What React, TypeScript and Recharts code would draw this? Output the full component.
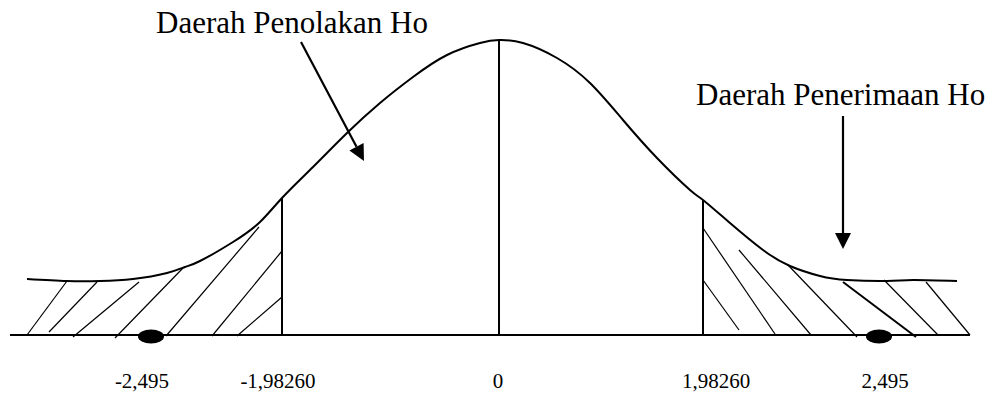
import { ComposedChart, Line, XAxis, YAxis, ReferenceLine, ReferenceDot } from 'recharts';

// positions are in drawing units along the baseline, heights are above the baseline
const curveX = [27, 67, 100, 133, 167, 185, 200, 233, 260, 282, 313, 347, 380, 413, 447, 480, 499, 523, 557, 590, 623, 657, 690, 703, 730, 763, 790, 820, 847, 887, 913, 957];
const curveH = [56, 54, 54, 56, 62, 68, 74, 93, 113, 137, 168, 202, 232, 258, 280, 292, 295, 292, 277, 252, 215, 177, 145, 135, 112, 85, 69, 59, 55, 54, 55, 54];

const tickPos = [142, 278, 498, 716, 885];
const tickLabels = ['-2,495', '-1,98260', '0', '1,98260', '2,495'];

// critical values (x, top of line)
const cutX = [282, 499, 703];
const cutTop = [137, 295, 135];

// t-hitung markers
const pointX = [151, 879];

// hatching strokes: [x1, y1, x2, y2, width]
const hatchLeft = [
  [27, 0, 67, 54, 1.2],
  [49, 3, 97, 53, 1.2],
  [73, -2, 139, 53, 1.2],
  [115, -3, 183, 67, 1.2],
  [166, -1, 259, 108, 1.2],
  [212, -1, 282, 84, 1.2],
  [237, -1, 282, 38, 1.2],
];
const hatchRight = [
  [703, 107, 775, 1, 1.2],
  [703, 55, 739, 5, 1.2],
  [739, 85, 811, 0, 1.2],
  [788, 70, 857, -2, 1.2],
  [843, 53, 916, -2, 2],
  [884, 55, 938, 0, 1.2],
  [926, 53, 970, 0, 1.2],
];

const notes = ['Daerah Penolakan Ho', 'Daerah Penerimaan Ho'];
const noteX = [156, 696];
const noteY = [302, 230];
const arrows = [
  [301, 293, 364, 174],
  [843, 219, 843, 86],
];

const data = curveX.map((x, i) => ({ x, h: curveH[i] }));
const FONT = '"Liberation Serif", "Times New Roman", serif';

const ArrowShape = (p: any) => {
  const { x1, y1, x2, y2 } = p;
  const a = Math.atan2(y2 - y1, x2 - x1);
  const len = 16;
  const w = 8;
  const bx = x2 - len * Math.cos(a);
  const by = y2 - len * Math.sin(a);
  const nx = -Math.sin(a) * w;
  const ny = Math.cos(a) * w;
  return (
    <g>
      <line x1={x1} y1={y1} x2={bx} y2={by} stroke="#000" strokeWidth={2.2} />
      <polygon points={`${x2},${y2} ${bx + nx},${by + ny} ${bx - nx},${by - ny}`} fill="#000" />
    </g>
  );
};

export default function App() {
  return (
    <div style={{ position: 'absolute', left: 0, top: 0, background: '#fff' }}>
      <ComposedChart width={1003} height={401} data={data} margin={{ top: 0, right: 33, bottom: 0, left: 10 }}>
        <XAxis
          dataKey="x"
          type="number"
          domain={[10, 970]}
          ticks={tickPos}
          tickFormatter={(v: number) => tickLabels[tickPos.indexOf(v)]}
          interval={0}
          height={66}
          tickLine={false}
          tickMargin={32}
          axisLine={{ stroke: '#000', strokeWidth: 2 }}
          tick={{ fill: '#000', fontSize: 21, fontFamily: FONT }}
        />
        <YAxis type="number" domain={[0, 335]} hide />
        {[...hatchLeft, ...hatchRight].map(([x1, y1, x2, y2, w], i) => (
          <ReferenceLine
            key={'h' + i}
            segment={[{ x: x1, y: y1 }, { x: x2, y: y2 }]}
            stroke="#000"
            strokeWidth={w}
            ifOverflow="visible"
          />
        ))}
        {cutX.map((x, i) => (
          <ReferenceLine
            key={'c' + i}
            segment={[{ x, y: 0 }, { x, y: cutTop[i] }]}
            stroke="#000"
            strokeWidth={2}
            ifOverflow="visible"
          />
        ))}
        <Line
          dataKey="h"
          type="natural"
          stroke="#000"
          strokeWidth={2}
          dot={false}
          activeDot={false}
          isAnimationActive={false}
        />
        {pointX.map((x, i) => (
          <ReferenceDot
            key={'p' + i}
            x={x}
            y={-1.5}
            r={7}
            ifOverflow="visible"
            shape={(p: any) => <ellipse cx={p.cx} cy={p.cy} rx={13} ry={7} fill="#000" />}
          />
        ))}
        {arrows.map(([x1, y1, x2, y2], i) => (
          <ReferenceLine
            key={'a' + i}
            segment={[{ x: x1, y: y1 }, { x: x2, y: y2 }]}
            ifOverflow="visible"
            shape={ArrowShape}
          />
        ))}
        {notes.map((t, i) => (
          <ReferenceDot
            key={'n' + i}
            x={noteX[i]}
            y={noteY[i]}
            r={1}
            ifOverflow="visible"
            shape={(p: any) => (
              <text x={p.cx} y={p.cy} fill="#000" fontSize={31} fontFamily={FONT} textAnchor="start">
                {t}
              </text>
            )}
          />
        ))}
      </ComposedChart>
    </div>
  );
}
